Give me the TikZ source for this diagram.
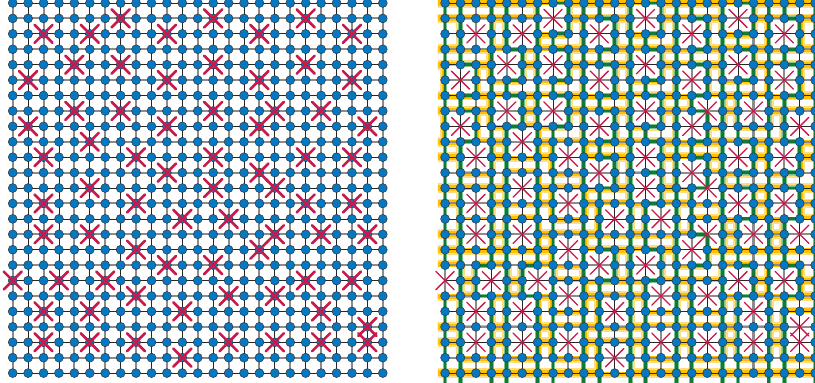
\documentclass[tikz,border=0pt]{standalone}
\usetikzlibrary{shapes.misc}
\definecolor{qubitblue}{RGB}{5,120,195}
\definecolor{defectred}{RGB}{200,25,75}
\definecolor{gaugegold}{RGB}{255,192,0}
\definecolor{gaugelight}{RGB}{255,222,130}
\definecolor{loggreen}{RGB}{20,120,55}
\definecolor{loglight}{RGB}{120,195,140}
\tikzset{
  edgeblack/.style={black!85,line width=0.7pt},
  edgegray/.style={black!45,line width=1.9pt},
  qubit/.style={fill=qubitblue,draw=black!80,line width=0.45pt},
  badL/.style={cross out,draw=defectred,line width=2.4pt,minimum size=0.5cm,inner sep=0pt},
  badR/.style={cross out,draw=defectred,line width=1.2pt,minimum size=0.55cm,inner sep=0pt},
  goldband/.style={gaugelight,line width=9pt,line cap=rect},
  goldcore/.style={gaugegold,line width=5.5pt,line cap=rect},
  greenband/.style={loglight,line width=4.4pt},
  greencore/.style={loggreen,line width=2.6pt}
}
\def\defects{7/1,13/1,19/1,2/2,5/2,10/2,16/2,22/2,4/4,7/4,13/4,19/4,1/5,10/5,16/5,22/5,4/7,7/7,13/7,17/7,20/7,1/8,10/8,16/8,23/8,5/9,2/10,8/10,13/10,19/10,22/10,10/11,16/11,5/12,13/12,17/12,2/13,8/13,19/13,22/13,11/14,14/14,2/15,5/15,17/15,20/15,23/15,8/16,16/16,10/17,13/17,0/18,3/18,6/18,19/18,22/18,8/19,14/19,17/19,2/20,5/20,11/20,20/20,23/21,2/22,5/22,8/22,14/22,17/22,20/22,23/22,11/23}
\def\bandrows{0,1,3,4,6,7,9,10,12,13,15,16,18,19,21,22,24}
\def\stringcols{0,1,3,4,6,7,9,10,12,13,15,16,18,19,21,22,24}
\foreach \c/\r in \defects{\global\expandafter\def\csname bad-\c-\r\endcsname{1}}
\begin{document}
\begin{tikzpicture}[x=0.5cm,y=-0.5cm,line join=round,line cap=round]
\useasboundingbox (-0.824,-0.195) rectangle (52.03,24.64);
% lattice points, left and right
\foreach \i in {0,...,24}{
  \foreach \j in {0,...,24}{
    \coordinate (L-\i-\j) at (\i,\j);
    \coordinate (R-\i-\j) at (28.04+\i,\j);
  }
}
\begin{scope}
\clip (27.58,-0.3) rectangle (52.2,24.8);
% right: gauge bands and frames round the defects
\foreach \l in {goldband,goldcore}{
  \foreach \j in \bandrows{
    \draw[\l] ([xshift=-0.2cm]R-0-\j) -- (R-24-\j);
  }
  \foreach \c/\r in \defects{
    \draw[\l] ([xshift=-0.5cm,yshift=0.5cm]R-\c-\r) rectangle ([xshift=0.5cm,yshift=-0.5cm]R-\c-\r);
  }
}
\foreach \c/\r in \defects{
  \fill[white] ([xshift=-0.45cm,yshift=0.45cm]R-\c-\r) rectangle ([xshift=0.45cm,yshift=-0.45cm]R-\c-\r);
}
\end{scope}
% edges
\foreach \j in {0,...,24}{
  \foreach \i [evaluate=\i as \k using int(\i+1)] in {0,...,23}{
    \ifodd\j
      \draw[edgegray] (L-\i-\j) -- (L-\k-\j);
      \draw[edgegray] (R-\i-\j) -- (R-\k-\j);
    \fi
  }
}
\foreach \i in {0,...,24}{
  \foreach \j [evaluate=\j as \k using int(\j+1)] in {0,...,23}{
    \ifodd\i\else
      \draw[edgegray] (L-\i-\j) -- (L-\i-\k);
      \draw[edgegray] (R-\i-\j) -- (R-\i-\k);
    \fi
  }
}
\foreach \j in {0,...,24}{
  \foreach \i [evaluate=\i as \k using int(\i+1)] in {0,...,23}{
    \ifodd\j\else
      \draw[edgeblack] (L-\i-\j) -- (L-\k-\j);
      \draw[edgeblack] (R-\i-\j) -- (R-\k-\j);
    \fi
  }
}
\foreach \i in {0,...,24}{
  \foreach \j [evaluate=\j as \k using int(\j+1)] in {0,...,23}{
    \ifodd\i
      \draw[edgeblack] (L-\i-\j) -- (L-\i-\k);
      \draw[edgeblack] (R-\i-\j) -- (R-\i-\k);
    \fi
  }
}
% right: logical strings, going round the defects
\foreach \l in {greenband,greencore}{
  \foreach \i in \stringcols{
    \foreach \j [evaluate=\j as \k using int(\j+1)] in {0,...,23}{
      \ifcsname bad-\i-\j\endcsname\else\ifcsname bad-\i-\k\endcsname\else
        \draw[\l] (R-\i-\j) -- (R-\i-\k);
      \fi\fi
    }
    \draw[\l] (R-\i-24) -- ([yshift=-0.35cm]R-\i-24);
  }
  \foreach \c/\r in \defects{
    \pgfmathtruncatemacro\cmod{mod(\c,3)}
    \ifnum\cmod<2
      \pgfmathtruncatemacro\cside{\c-1+2*\cmod}
      \pgfmathtruncatemacro\rup{\r-1}
      \pgfmathtruncatemacro\rdown{\r+1}
      \ifnum\cside>-1
        \draw[\l] (R-\c-\rup) -- (R-\cside-\rup) -- (R-\cside-\rdown) -- (R-\c-\rdown);
      \fi
    \fi
  }
}
% qubits
\foreach \i in {0,...,24}{
  \foreach \j in {0,...,24}{
    \draw[qubit] (L-\i-\j) circle (0.29);
    \ifcsname bad-\i-\j\endcsname\else
      \draw[qubit] (R-\i-\j) circle (0.29);
    \fi
  }
}
% defects
\foreach \c/\r in \defects{
  \node[badL] at (L-\c-\r) {};
  \node[badR] at (R-\c-\r) {};
}
\end{tikzpicture}
\end{document}
